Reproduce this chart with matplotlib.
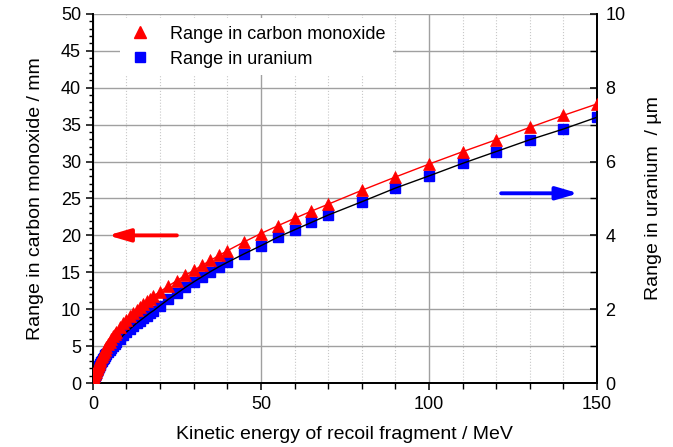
import matplotlib
matplotlib.use("Agg")
import matplotlib.pyplot as plt
from matplotlib.ticker import MultipleLocator

plt.rcParams["font.family"] = ["Liberation Sans", "DejaVu Sans"]

# kinetic energy of the recoil fragment (MeV)
energy = [0.2, 0.4, 0.6, 0.8, 1.0, 1.1, 1.2, 1.3, 1.4, 1.5, 1.6, 1.7, 1.8,
          2.0, 2.25, 2.5, 2.75, 3.0, 3.25, 3.5, 3.75, 4.0, 4.5, 5.0, 5.5,
          6.0, 6.5, 7.0, 8.0, 9.0, 10, 11, 12, 13, 14, 15, 16, 17, 18, 20,
          22.5, 25, 27.5, 30, 32.5, 35, 37.5, 40, 45, 50, 55, 60, 65, 70,
          80, 90, 100, 110, 120, 130, 140, 150]

# range in carbon monoxide (mm)
range_co = [0.5, 0.9, 1.25, 1.5, 1.75, 1.9, 2.03, 2.16, 2.29, 2.41, 2.53,
            2.65, 2.76, 2.95, 3.22, 3.48, 3.73, 3.97, 4.2, 4.42, 4.64, 4.85,
            5.25, 5.63, 5.99, 6.33, 6.66, 6.97, 7.56, 8.1, 8.6, 9.07, 9.51,
            9.93, 10.33, 10.71, 11.08, 11.43, 11.77, 12.4, 13.15, 13.88,
            14.6, 15.25, 15.95, 16.62, 17.28, 17.92, 19.12, 20.25, 21.3,
            22.3, 23.28, 24.22, 26.1, 27.9, 29.65, 31.33, 32.95, 34.62,
            36.25, 37.8]

# range in uranium (um)
range_u = [0.08, 0.14, 0.2, 0.25, 0.3, 0.32, 0.34, 0.36, 0.38, 0.4, 0.42,
           0.44, 0.46, 0.49, 0.53, 0.57, 0.61, 0.65, 0.68, 0.72, 0.75, 0.79,
           0.85, 0.9, 0.96, 1.01, 1.06, 1.11, 1.2, 1.29, 1.38, 1.46, 1.54,
           1.62, 1.69, 1.76, 1.83, 1.9, 1.96, 2.1, 2.27, 2.43, 2.59, 2.74,
           2.88, 3.02, 3.15, 3.27, 3.5, 3.72, 3.95, 4.15, 4.35, 4.55, 4.91,
           5.28, 5.61, 5.95, 6.27, 6.59, 6.88, 7.2]

fig = plt.figure(figsize=(6.73, 4.47), dpi=100)
ax2 = fig.add_axes([0.138, 0.143, 0.749, 0.826])
ax = ax2.twinx()
ax.yaxis.tick_left()
ax.yaxis.set_label_position("left")
ax2.yaxis.tick_right()
ax2.yaxis.set_label_position("right")
ax.set_zorder(ax2.get_zorder() + 1)
ax.patch.set_visible(False)

# uranium on the right scale (bottom layer, carries the grid)
ax2.plot(energy, range_u, "s", color="#0000ff", ms=7, mec="#0000ff",
         zorder=3)
ax2.plot(energy, range_u, "-", color="black", lw=1.0, zorder=4)

# carbon monoxide on the left scale
ax.plot(energy, range_co, "^", color="#ff0000", ms=9, mec="#ff0000",
        mew=0.5, zorder=3)
ax.plot(energy, range_co, "-", color="#ff0000", lw=1.0, zorder=4)

ax.set_xlim(0, 150)
ax.set_ylim(0, 50)
ax2.set_ylim(0, 10)

ax2.xaxis.set_major_locator(MultipleLocator(50))
ax2.xaxis.set_minor_locator(MultipleLocator(10))
ax.yaxis.set_major_locator(MultipleLocator(5))
ax.yaxis.set_minor_locator(MultipleLocator(1))
ax2.yaxis.set_major_locator(MultipleLocator(2))
ax2.yaxis.set_minor_locator(MultipleLocator(1))

ax2.grid(True, which="major", axis="x", color="#a0a0a0", lw=1.0, ls="-")
ax2.grid(True, which="minor", axis="x", color="#c8c8c8", lw=0.8, ls=":")
ax2.grid(True, which="both", axis="y", color="#a0a0a0", lw=1.0, ls="-")
ax2.set_axisbelow(True)

for a in (ax, ax2):
    a.spines["top"].set_visible(False)
    for s in ("left", "right", "bottom"):
        a.spines[s].set_linewidth(1.3)

ax2.tick_params(axis="x", which="major", direction="out", length=5,
                width=1.1, labelsize=13, pad=4)
ax2.tick_params(axis="x", which="minor", direction="out", length=4,
                width=1.0)
ax2.tick_params(axis="y", which="major", direction="in", length=5,
                width=1.1, labelsize=13, pad=6)
ax2.tick_params(axis="y", which="minor", direction="in", length=5,
                width=1.0)
ax.tick_params(axis="y", which="major", direction="out", length=5,
               width=1.1, labelsize=13)
ax.tick_params(axis="y", which="minor", direction="out", length=3,
               width=1.0)

ax2.set_xlabel("Kinetic energy of recoil fragment / MeV", fontsize=14,
               labelpad=10)
ax.set_ylabel("Range in carbon monoxide / mm", fontsize=14, labelpad=12)
ax2.set_ylabel("Range in uranium  / µm", fontsize=14, labelpad=14)

# direction arrows
arrow = "-|>,head_length=1.3,head_width=0.38"
ax.annotate("", xy=(4.5, 20), xytext=(25, 20),
            arrowprops=dict(arrowstyle=arrow, color="#ff0000", lw=2.8,
                            shrinkA=0, shrinkB=0), zorder=6)
ax2.annotate("", xy=(144.5, 5.14), xytext=(121.5, 5.14),
             arrowprops=dict(arrowstyle=arrow, color="#0000ff", lw=2.8,
                             shrinkA=0, shrinkB=0), zorder=6)

h1 = ax.plot([], [], "^", color="#ff0000", ms=9, mec="#ff0000")[0]
h2 = ax.plot([], [], "s", color="#0000ff", ms=7)[0]
leg = ax.legend([h1, h2], ["Range in carbon monoxide", "Range in uranium"],
                loc="upper left", bbox_to_anchor=(0.035, 1.012), frameon=True,
                fontsize=13, handletextpad=0.9, borderpad=0.4,
                labelspacing=0.45, handlelength=1.5, fancybox=False)
leg.get_frame().set_edgecolor("none")
leg.get_frame().set_facecolor("white")
leg.get_frame().set_alpha(1.0)

fig.savefig("out.png", dpi=100)
